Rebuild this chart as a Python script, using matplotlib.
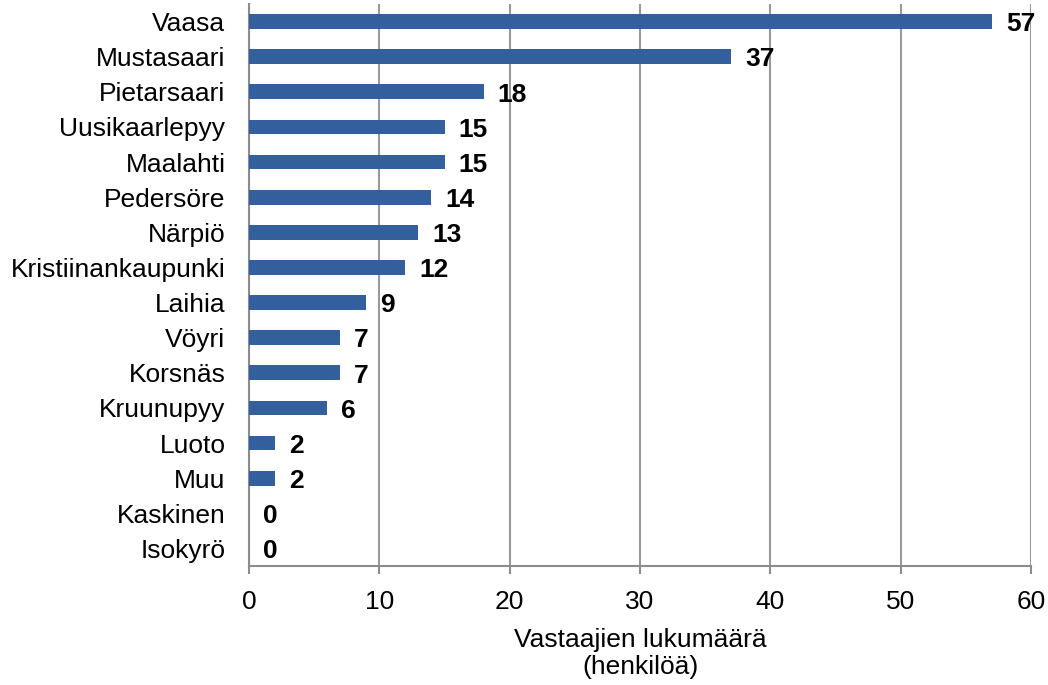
import matplotlib.pyplot as plt
import numpy as np

plt.rcParams['font.family'] = ['Liberation Sans', 'DejaVu Sans']

kunnat = ['Vaasa', 'Mustasaari', 'Pietarsaari', 'Uusikaarlepyy', 'Maalahti',
          'Pedersöre', 'Närpiö', 'Kristiinankaupunki', 'Laihia', 'Vöyri',
          'Korsnäs', 'Kruunupyy', 'Luoto', 'Muu', 'Kaskinen', 'Isokyrö']
vastaajat = [57, 37, 18, 15, 15, 14, 13, 12, 9, 7, 7, 6, 2, 2, 0, 0]
xticks = [0, 10, 20, 30, 40, 50, 60]

fig = plt.figure(figsize=(10.48, 6.85), dpi=100)
ax = fig.add_axes([249/1048, 1 - 566/685, (1031-249)/1048, (566-4)/685])

y = np.arange(len(kunnat))
ax.barh(y, vastaajat, height=0.42, color='#335f9c', zorder=3)
for yi, v in zip(y, vastaajat):
    ax.annotate(str(v), (v, yi), xytext=(10, -2), textcoords='offset points',
                ha='left', va='center', fontsize=19, fontweight='bold', zorder=4)

ax.set_ylim(len(kunnat) - 0.5, -0.5)
ax.set_xlim(0, 60)
ax.set_yticks(y)
ax.set_yticklabels(kunnat, fontsize=19)
ax.set_xticks(xticks)
ax.set_xticklabels([str(t) for t in xticks], fontsize=19)
ax.tick_params(axis='y', length=0, pad=17)
ax.tick_params(axis='x', length=6, width=1.5, color='#8c8c8c', pad=11)
ax.grid(axis='x', color='#999999', linewidth=1.5, zorder=0)
for s in ['top', 'right']:
    ax.spines[s].set_visible(False)
for s in ['left', 'bottom']:
    ax.spines[s].set_color('#8c8c8c')
    ax.spines[s].set_linewidth(1.5)
ax.set_xlabel('Vastaajien lukumäärä\n(henkilöä)', fontsize=19, labelpad=10)

plt.savefig('out.png', dpi=100)
